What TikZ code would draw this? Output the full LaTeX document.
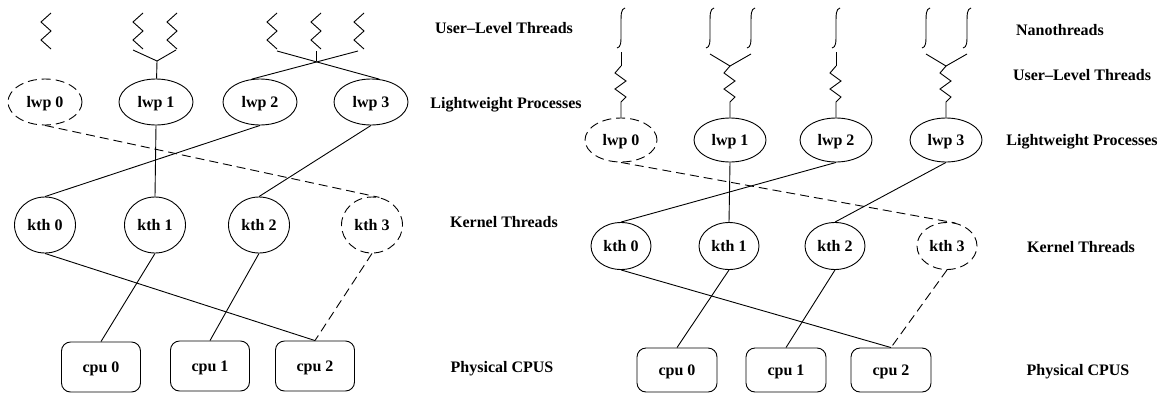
\documentclass[tikz,border=0pt]{standalone}
\usepackage{fontspec}
\setmainfont{Liberation Serif}
\usetikzlibrary{shapes.geometric}

\tikzstyle{thread}=[draw,ellipse,inner sep=0pt,text height=10.5pt,text depth=0pt,font=\fontsize{16}{18}\selectfont\bfseries]
\tikzstyle{lwp}=[thread,minimum width=74pt,minimum height=46pt]
\tikzstyle{kth}=[thread,minimum width=61pt,minimum height=56pt]
\tikzstyle{cpu}=[thread,rectangle,rounded corners=9pt,minimum width=79pt,minimum height=50pt]
\tikzstyle{rlwp}=[thread,minimum width=72pt,minimum height=44pt]
\tikzstyle{rkth}=[thread,minimum width=60pt,minimum height=47pt]
\tikzstyle{rcpu}=[thread,rectangle,rounded corners=9pt,minimum width=80pt,minimum height=44pt]
\tikzstyle{idle}=[dash pattern=on 9pt off 5pt]
\tikzstyle{layername}=[inner sep=0pt,text height=10.5pt,text depth=0pt,font=\fontsize{16}{18}\selectfont\bfseries]

\begin{document}
\begin{tikzpicture}[x=1pt,y=-1pt,line width=0.9pt]
	\useasboundingbox (0,0) rectangle (1161,394);
	% left: threads on lwps
	\foreach \x in {46,138,172,272,316,359}
		\draw (\x+5,13) -- (\x-5,22) -- (\x+5,31) -- (\x-5,40) -- (\x+5,49);
	\coordinate (u1a) at (133,50);
	\coordinate (u1b) at (176,50);
	\coordinate (fork1) at (157,61);
	\coordinate (u23a) at (277,51);
	\coordinate (u23b) at (316,51);
	\coordinate (u23c) at (358,51);
	\coordinate (cross) at (316,61);

	\node[lwp,idle] (lwp0) at (45,102) {lwp 0};
	\node[lwp] (lwp1) at (156,102) {lwp 1};
	\node[lwp] (lwp2) at (260,102) {lwp 2};
	\node[lwp] (lwp3) at (371,102) {lwp 3};
	\node[kth] (kth0) at (45,225) {kth 0};
	\node[kth] (kth1) at (155,225) {kth 1};
	\node[kth] (kth2) at (259,225) {kth 2};
	\node[kth,idle] (kth3) at (372,225) {kth 3};
	\node[cpu] (cpu0) at (101,367) {cpu 0};
	\node[cpu] (cpu1) at (210,366) {cpu 1};
	\node[cpu] (cpu2) at (315,366) {cpu 2};

	\draw (u1a) -- (fork1) -- (u1b);
	\draw (fork1) -- (lwp1);
	\draw (u23a) -- (lwp3.70);
	\draw (u23c) -- (lwp2.110);
	\draw (u23b) -- (cross);
	\foreach \source/\dest in {lwp1/kth1, lwp2/kth0, lwp3/kth2, kth0/cpu2, kth1/cpu0, kth2/cpu1}
		\draw (\source.south) -- (\dest.north);
	\draw[idle] (lwp0.south) -- (kth3.75);
	\draw[idle] (kth3.south) -- (cpu2.north);

	\node[layername] (ult) at (504,28) {User--Level Threads};
	\node[layername] (lwps) at (506,103) {Lightweight Processes};
	\node[layername] (kths) at (504,222) {Kernel Threads};
	\node[layername] (cpus) at (502,367) {Physical CPUS};

	% right: nanothreads on threads on lwps
	\foreach \x in {621,710,751,836,926,967}
		\draw (\x+4,8) .. controls (\x,9) and (\x,14) .. (\x,24) -- (\x,33) .. controls (\x,43) and (\x,47) .. (\x-4,48);

	\node[rlwp,idle] (rlwp0) at (621,140) {lwp 0};
	\node[rlwp] (rlwp1) at (730,140) {lwp 1};
	\node[rlwp] (rlwp2) at (836,140) {lwp 2};
	\node[rlwp] (rlwp3) at (946,140) {lwp 3};
	\node[rkth] (rkth0) at (621,246) {kth 0};
	\node[rkth] (rkth1) at (729,246) {kth 1};
	\node[rkth] (rkth2) at (835,246) {kth 2};
	\node[rkth,idle] (rkth3) at (947,246) {kth 3};
	\node[rcpu] (rcpu0) at (677,370) {cpu 0};
	\node[rcpu] (rcpu1) at (786,370) {cpu 1};
	\node[rcpu] (rcpu2) at (891,370) {cpu 2};

	\draw (621,52) -- (621,66);
	\draw (836,52) -- (836,66);
	\draw (710,54) -- (730,66) -- (751,54);
	\draw (926,54) -- (946,66) -- (967,54);
	\foreach \c/\n in {621/rlwp0, 730/rlwp1, 836/rlwp2, 946/rlwp3}
		\draw (\c,66) -- (\c-6,73) -- (\c+5,81) -- (\c-6,89) -- (\c+5,97) -- (\c,102) -- (\n.north);
	\foreach \source/\dest in {rlwp1/rkth1, rlwp2/rkth0, rlwp3/rkth2, rkth0/rcpu2, rkth1/rcpu0, rkth2/rcpu1}
		\draw (\source.south) -- (\dest.north);
	\draw[idle] (rlwp0.south) -- (rkth3.70);
	\draw[idle] (rkth3.south) -- (rcpu2.north);

	\node[layername] (nano) at (1060,30) {Nanothreads};
	\node[layername] (rult) at (1082,75) {User--Level Threads};
	\node[layername] (rlwps) at (1082,140) {Lightweight Processes};
	\node[layername] (rkths) at (1081,247) {Kernel Threads};
	\node[layername] (rcpus) at (1078,370) {Physical CPUS};
\end{tikzpicture}
\end{document}
